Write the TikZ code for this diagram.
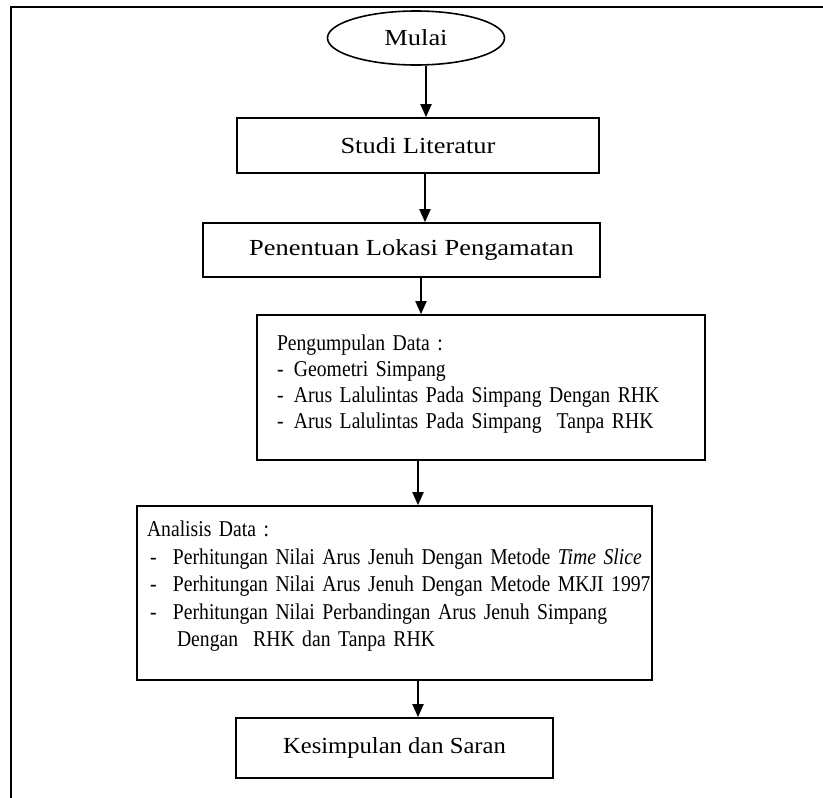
\documentclass[tikz,border=0pt]{standalone}
\usepackage{fontspec}
\setmainfont{Liberation Serif}
\newfontfamily\titlefont[FakeStretch=1.15]{Liberation Serif}
\newfontfamily\listfont[FakeStretch=0.87]{Liberation Serif}
\newfontfamily\endfont[FakeStretch=1.07]{Liberation Serif}
\usetikzlibrary{arrows.meta,shapes.geometric}
\begin{document}
\begin{tikzpicture}[x=1pt,y=-1pt,
  every node/.style={font=\titlefont\fontsize{23}{28}\selectfont},
  box/.style={draw,line width=1.6pt,rectangle,inner sep=0pt,align=center},
  listbox/.style={draw,line width=1.6pt,rectangle,align=left,inner ysep=0pt},
  arr/.style={line width=1.8pt,-{Triangle[length=13pt,width=11pt]}},
  frame/.style={line width=2pt}]
\useasboundingbox (0,0) rectangle (823,798);
% frame
\coordinate (fTR) at (823,7);
\coordinate (fTL) at (11,7);
\coordinate (fBL) at (11,798);
\draw[frame] (fTR) -- (fTL) -- (fBL);
% nodes
\node[draw,line width=1.6pt,ellipse,minimum width=177pt,minimum height=54pt,inner sep=0pt] (mulai) at (416,38) {Mulai};
\node[box,minimum width=362pt,minimum height=55pt] (studi) at (418,145.5) {Studi Literatur};
\node[box,minimum width=397pt,minimum height=54pt] (lokasi) at (401.5,250) {\hspace*{20pt}Penentuan Lokasi Pengamatan};
\node[listbox,inner xsep=20pt,text width=408pt,minimum height=145pt,font=\listfont\fontsize{22.6}{26}\selectfont] (data) at (481,387.5)
 {Pengumpulan Data :\\
  \makebox[17pt][l]{-}Geometri Simpang\\
  \makebox[17pt][l]{-}\mbox{Arus Lalulintas Pada Simpang Dengan RHK}\\
  \makebox[17pt][l]{-}\mbox{Arus Lalulintas Pada Simpang\ \ Tanpa RHK}\rule[-11pt]{0pt}{0pt}};
\node[listbox,inner xsep=10pt,text width=495pt,minimum height=174pt,font=\listfont\fontsize{22.6}{27.5}\selectfont] (analisis) at (394.5,593)
 {Analisis Data :\\
  \hspace*{3pt}\makebox[23pt][l]{-}\mbox{Perhitungan Nilai Arus Jenuh Dengan Metode \textit{Time Slice}}\\
  \hspace*{3pt}\makebox[23pt][l]{-}\mbox{Perhitungan Nilai Arus Jenuh Dengan Metode MKJI 1997}\\
  \hspace*{3pt}\makebox[23pt][l]{-}\mbox{Perhitungan Nilai Perbandingan Arus Jenuh Simpang}\\
  \hspace*{30pt}\mbox{Dengan\ \ RHK dan Tanpa RHK}\rule[-18pt]{0pt}{0pt}};
\node[box,minimum width=317pt,minimum height=60pt,font=\endfont\fontsize{23}{28}\selectfont] (saran) at (394.5,748) {Kesimpulan dan Saran};
% arrows
\coordinate (x1) at (426,0);
\coordinate (x2) at (425,0);
\coordinate (x3) at (421,0);
\coordinate (x4) at (418,0);
\coordinate (x5) at (418,0);
\draw[arr] (mulai.south -| x1) -- (studi.north -| x1);
\draw[arr] (studi.south -| x2) -- (lokasi.north -| x2);
\draw[arr] (lokasi.south -| x3) -- (data.north -| x3);
\draw[arr] (data.south -| x4) -- (analisis.north -| x4);
\draw[arr] (analisis.south -| x5) -- (saran.north -| x5);
\end{tikzpicture}
\end{document}
